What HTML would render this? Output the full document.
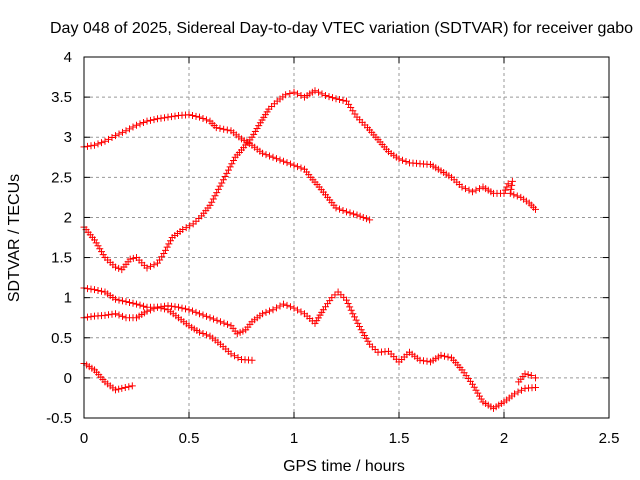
<!DOCTYPE html>
<html><head><meta charset="utf-8"><style>
body{margin:0;background:#fff}
svg{display:block;font-family:"Liberation Sans",sans-serif}
</style></head><body>
<svg id="c" width="640" height="480">
<rect width="640" height="480" fill="#fff"/>
<text x="50" y="33" font-size="16" text-anchor="start">Day 048 of 2025, Sidereal Day-to-day VTEC variation (SDTVAR) for receiver gabo</text>
<text x="344" y="471" font-size="16" text-anchor="middle">GPS time / hours</text>
<text transform="translate(19,238) rotate(-90)" font-size="16" text-anchor="middle">SDTVAR / TECUs</text>
<g id="grid"></g><g id="ticks"></g><g id="series"></g>
<rect x="84" y="57" width="525" height="361" fill="none" stroke="#000"/>
</svg>
<script>
const xTicks=[0,0.5,1,1.5,2,2.5];
const xTickLabels=["0","0.5","1","1.5","2","2.5"];
const yTicks=[-0.5,0,0.5,1,1.5,2,2.5,3,3.5,4];
const yTickLabels=["-0.5","0","0.5","1","1.5","2","2.5","3","3.5","4"];
const seriesA=[[0,2.88],[0.05,2.9],[0.1,2.95],[0.15,3.02],[0.2,3.08],[0.25,3.15],[0.3,3.2],[0.35,3.23],[0.4,3.25],[0.45,3.27],[0.5,3.28],[0.55,3.25],[0.6,3.2],[0.63,3.12],[0.7,3.08],[0.75,2.98],[0.8,2.9],[0.85,2.8],[0.9,2.75],[0.95,2.7],[1.0,2.65],[1.05,2.6],[1.08,2.5],[1.12,2.38],[1.16,2.25],[1.2,2.12],[1.25,2.07],[1.3,2.03],[1.36,1.97]];
const seriesB=[[0,1.88],[0.05,1.72],[0.1,1.5],[0.15,1.38],[0.18,1.35],[0.22,1.48],[0.25,1.5],[0.3,1.37],[0.35,1.43],[0.38,1.55],[0.42,1.75],[0.47,1.85],[0.52,1.92],[0.56,2.02],[0.6,2.15],[0.64,2.35],[0.68,2.55],[0.72,2.75],[0.76,2.87],[0.8,3.0],[0.84,3.18],[0.88,3.35],[0.92,3.45],[0.96,3.53],[1.0,3.56],[1.05,3.5],[1.1,3.58],[1.15,3.52],[1.2,3.48],[1.25,3.45],[1.3,3.25],[1.35,3.12],[1.4,2.97],[1.45,2.82],[1.5,2.73],[1.55,2.68],[1.6,2.67],[1.65,2.66],[1.7,2.58],[1.75,2.5],[1.8,2.38],[1.85,2.32],[1.9,2.38],[1.95,2.3],[2.0,2.3],[2.02,2.42],[2.04,2.45],[2.03,2.3],[2.08,2.25],[2.12,2.18],[2.15,2.1]];
const seriesC=[[0,1.12],[0.05,1.1],[0.1,1.07],[0.15,0.98],[0.2,0.95],[0.25,0.92],[0.3,0.88],[0.35,0.88],[0.4,0.85],[0.45,0.75],[0.5,0.65],[0.55,0.57],[0.6,0.52],[0.65,0.42],[0.7,0.3],[0.75,0.23],[0.8,0.22]];
const seriesD=[[0,0.75],[0.05,0.77],[0.1,0.78],[0.15,0.8],[0.2,0.75],[0.25,0.75],[0.3,0.83],[0.35,0.88],[0.4,0.9],[0.45,0.88],[0.5,0.85],[0.55,0.8],[0.6,0.75],[0.65,0.7],[0.7,0.65],[0.73,0.55],[0.77,0.6],[0.8,0.7],[0.85,0.8],[0.9,0.85],[0.95,0.92],[1.0,0.87],[1.05,0.8],[1.1,0.68],[1.14,0.85],[1.18,1.0],[1.21,1.07],[1.25,0.97],[1.28,0.8],[1.32,0.6],[1.36,0.42],[1.4,0.32],[1.45,0.33],[1.5,0.2],[1.55,0.32],[1.6,0.22],[1.65,0.2],[1.7,0.28],[1.75,0.25],[1.8,0.1],[1.85,-0.08],[1.9,-0.3],[1.95,-0.38],[2.0,-0.3],[2.05,-0.2],[2.1,-0.13],[2.15,-0.12]];
const seriesD2=[[2.07,-0.05],[2.1,0.05],[2.13,0.03],[2.15,0.0]];
const seriesE=[[0,0.18],[0.05,0.1],[0.1,-0.05],[0.15,-0.15],[0.18,-0.13],[0.23,-0.1]];
const allSeries=[seriesA,seriesB,seriesC,seriesD,seriesD2,seriesE];
const NS="http://www.w3.org/2000/svg";
const X0=84,X1=609,Y0=418,Y1=57;
function xs(v){return X0+(v-0)/(2.5-0)*(X1-X0);}
function ys(v){return Y0-(v+0.5)/(4.5)*(Y0-Y1);}
function mk(t,a,p){const e=document.createElementNS(NS,t);for(const k in a)e.setAttribute(k,a[k]);p.appendChild(e);return e;}
const grid=document.getElementById('grid'),ticks=document.getElementById('ticks'),ser=document.getElementById('series');
xTicks.forEach((v,i)=>{const x=xs(v);
 if(i>0&&i<xTicks.length-1){const g=mk('line',{x1:x,x2:x,y1:Y0,y2:Y1,stroke:'#999','stroke-dasharray':'3,3'},grid);
 
 }
 mk('line',{x1:x,x2:x,y1:Y0,y2:Y0-6,stroke:'#000'},ticks);mk('line',{x1:x,x2:x,y1:Y1,y2:Y1+6,stroke:'#000'},ticks);
 const t=mk('text',{x:x,y:443,'font-size':15,'text-anchor':'middle'},ticks);t.textContent=xTickLabels[i];
 
 });
yTicks.forEach((v,i)=>{const y=ys(v);
 if(i>0&&i<yTicks.length-1){const g=mk('line',{x1:X0,x2:X1,y1:y,y2:y,stroke:'#999','stroke-dasharray':'3,3'},grid);
 
 }
 mk('line',{x1:X0,x2:X0+6,y1:y,y2:y,stroke:'#000'},ticks);mk('line',{x1:X1,x2:X1-6,y1:y,y2:y,stroke:'#000'},ticks);
 const t=mk('text',{x:72,y:y+5,'font-size':15,'text-anchor':'end'},ticks);t.textContent=yTickLabels[i];
 
 });
allSeries.forEach((s,si)=>{
 const g=mk('g',{},ser);
 
 
 let d='';
 for(let i=0;i<s.length;i++){
  const x=xs(s[i][0]),y=ys(s[i][1]);
  if(i>0){const px=xs(s[i-1][0]),py=ys(s[i-1][1]);const L=Math.hypot(x-px,y-py);const n=Math.max(1,Math.round(L/3.5));
   for(let k=1;k<=n;k++){const qx=px+(x-px)*k/n,qy=py+(y-py)*k/n;d+=`M${qx-3.5} ${qy}h7M${qx} ${qy-3.5}v7`;}}
  else d+=`M${x-3.5} ${y}h7M${x} ${y-3.5}v7`;
 }
 mk('path',{d:d,stroke:'#f00','stroke-width':1,fill:'none'},g);
});
</script>
</body></html>
